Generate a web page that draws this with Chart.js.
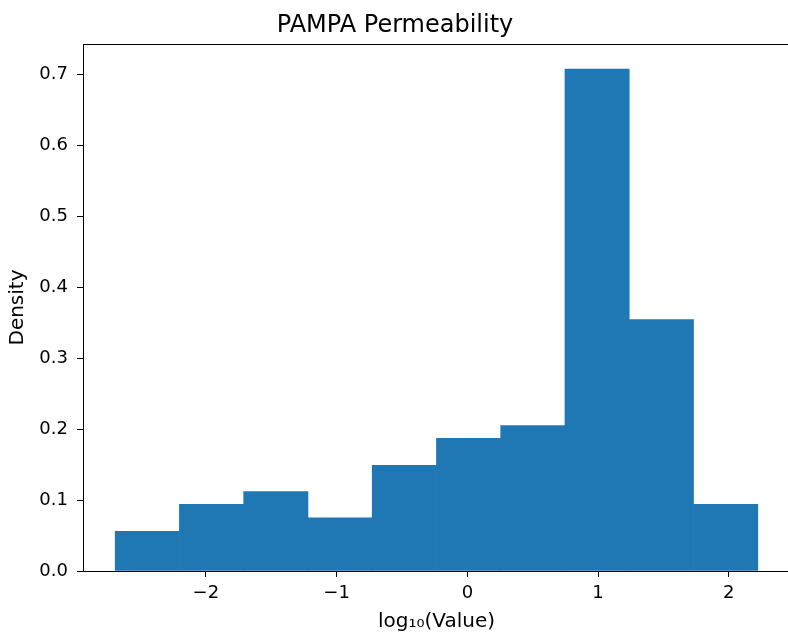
<!DOCTYPE html>
<html lang="en">
<head>
  <meta charset="UTF-8" />
  <title>PAMPA Permeability</title>
  <script src="https://cdn.jsdelivr.net/npm/chart.js"></script>
  <style>
    html, body {
      margin: 0;
      padding: 0;
      background: #ffffff;
      overflow: hidden;
    }
    /* a little wider than the window: the original figure is cut at its right spine */
    #wrap {
      width: 790px;
      height: 637px;
    }
  </style>
</head>
<body>
  <div id="wrap"><canvas id="hist"></canvas></div>

  <script>
    // histogram bins of log10(value), density normalised
    const binEdges = [-2.694, -2.202, -1.711, -1.219, -0.728, -0.236, 0.255, 0.747, 1.238, 1.730, 2.222];
    const densities = [0.056, 0.094, 0.112, 0.075, 0.149, 0.187, 0.205, 0.707, 0.354, 0.094];
    const xTicks = [-2, -1, 0, 1, 2];
    const yTicks = [0, 0.1, 0.2, 0.3, 0.4, 0.5, 0.6, 0.7];

    const barColor = '#1f77b4';
    const fontFamily = '"DejaVu Sans", sans-serif';

    // bars sit at bin centres, width comes from bin spacing
    const points = densities.map((d, i) => ({
      x: (binEdges[i] + binEdges[i + 1]) / 2,
      y: d
    }));

    // matplotlib-like 5% margins
    const span = binEdges[binEdges.length - 1] - binEdges[0];
    const xMin = binEdges[0] - span * 0.05;
    const xMax = binEdges[binEdges.length - 1] + span * 0.05;
    const yMax = Math.max(...densities) * 1.05;

    const minus = v => (v < 0 ? '\u2212' + Math.abs(v) : String(v));

    // closes the box (top and right spines)
    const frame = {
      id: 'frame',
      afterDraw(chart) {
        const { ctx, chartArea: a } = chart;
        ctx.save();
        ctx.strokeStyle = '#000';
        ctx.lineWidth = 1;
        ctx.strokeRect(Math.round(a.left) + 0.5, Math.round(a.top) + 0.5,
          Math.round(a.right - a.left) - 1, Math.round(a.bottom - a.top));
        ctx.restore();
      }
    };

    new Chart(document.getElementById('hist'), {
      type: 'bar',
      data: {
        datasets: [{
          data: points,
          backgroundColor: barColor,
          borderWidth: 0,
          barPercentage: 1,
          categoryPercentage: 1
        }]
      },
      options: {
        responsive: true,
        maintainAspectRatio: false,
        animation: false,
        layout: { padding: { left: 0, right: 0, top: 0, bottom: 0 } },
        plugins: {
          legend: { display: false },
          tooltip: { enabled: false },
          title: {
            display: true,
            text: 'PAMPA Permeability',
            color: '#000',
            font: { family: fontFamily, size: 24, weight: 'normal', lineHeight: 1.2 },
            padding: { top: 11, bottom: 4.2 }
          }
        },
        scales: {
          x: {
            type: 'linear',
            offset: false,
            min: xMin,
            max: xMax,
            afterBuildTicks: s => { s.ticks = xTicks.map(v => ({ value: v })); },
            afterFit: s => { s.height = 66; },
            grid: { offset: false, drawOnChartArea: false, drawTicks: true, tickLength: 6, color: '#000' },
            border: { display: true, color: '#000', width: 1 },
            ticks: {
              color: '#000',
              padding: 6,
              maxRotation: 0,
              font: { family: fontFamily, size: 18 },
              callback: v => minus(v)
            },
            title: {
              display: true,
              text: 'log\u2081\u2080(Value)',
              color: '#000',
              font: { family: fontFamily, size: 20 },
              padding: { top: 0, bottom: 3 }
            }
          },
          y: {
            min: 0,
            max: yMax,
            afterBuildTicks: s => { s.ticks = yTicks.map(v => ({ value: v })); },
            afterFit: s => { s.width = 83; },
            grid: { drawOnChartArea: false, drawTicks: true, tickLength: 6, color: '#000' },
            border: { display: true, color: '#000', width: 1 },
            ticks: {
              color: '#000',
              padding: 9,
              font: { family: fontFamily, size: 18 },
              callback: v => v.toFixed(1)
            },
            title: {
              display: true,
              text: 'Density',
              color: '#000',
              font: { family: fontFamily, size: 20 },
              padding: { top: 6, bottom: 0 }
            }
          }
        }
      },
      plugins: [frame]
    });
  </script>
</body>
</html>
